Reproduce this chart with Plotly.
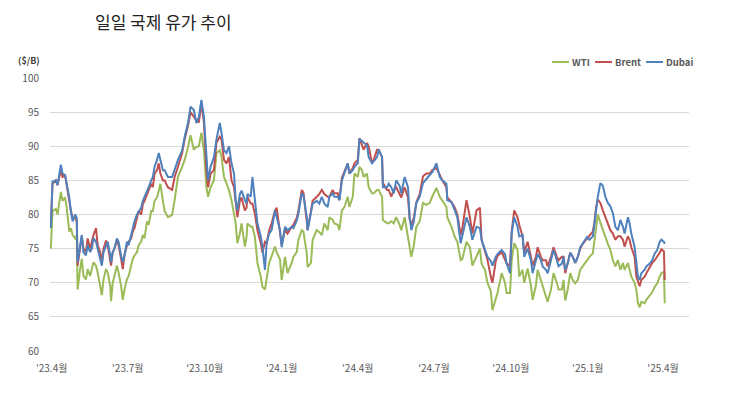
import pandas as pd
import plotly.graph_objects as go

start_date = "2023-03-31"
# days after start_date for each observation
day_index = [0, 2, 6, 8, 12, 14, 17, 19, 22, 24, 26, 29, 31, 32, 35, 37, 39, 42, 44, 47,
             49, 51, 54, 56, 59, 61, 63, 66, 68, 71, 72, 74, 76, 79, 81, 84, 86, 88, 91, 93,
             96, 98, 100, 103, 105, 108, 110, 112, 115, 117, 120, 122, 124, 127, 129, 131, 134, 136, 140, 145,
             148, 152, 157, 160, 164, 167, 171, 174, 177, 180, 183, 186, 188, 191, 195, 198, 202, 204, 207, 210,
             213, 216, 219, 221, 223, 226, 228, 232, 234, 235, 239, 241, 244, 247, 251, 253, 256, 258, 261, 264,
             268, 270, 274, 276, 280, 283, 288, 290, 294, 296, 300, 302, 306, 307, 311, 313, 318, 321, 324, 327,
             331, 333, 337, 339, 343, 345, 348, 351, 355, 357, 361, 363, 367, 369, 372, 374, 378, 380, 384, 386,
             390, 392, 396, 397, 402, 404, 407, 410, 413, 417, 419, 423, 427, 429, 431, 434, 437, 441, 445, 449,
             453, 456, 461, 465, 468, 473, 474, 479, 483, 486, 490, 492, 497, 501, 504, 509, 513, 515, 519, 522,
             526, 528, 532, 534, 539, 543, 545, 549, 551, 554, 558, 560, 564, 566, 570, 574, 576, 580, 582, 586,
             588, 592, 594, 598, 601, 605, 607, 611, 613, 615, 618, 621, 624, 627, 630, 633, 636, 641, 644, 648,
             650, 652, 654, 657, 660, 663, 666, 669, 672, 675, 678, 681, 684, 686, 690, 692, 694, 698, 700, 702,
             704, 706, 710, 712, 716, 719, 722, 725, 728, 730, 733, 734]

wti = [75.0, 80.5, 80.8, 80.0, 83.3, 82.0, 82.5, 81.0, 77.5, 78.0, 77.0, 76.5, 77.0, 69.0, 72.0, 73.5, 71.0, 70.5, 72.0, 71.0,
       72.0, 73.0, 72.5, 71.5, 69.5, 68.2, 70.5, 72.0, 71.5, 69.5, 67.3, 70.0, 71.0, 72.5, 71.5, 69.5, 67.5, 69.0, 70.5, 71.0,
       72.5, 73.5, 74.0, 74.5, 75.5, 76.0, 77.0, 76.5, 79.0, 78.5, 80.5, 80.5, 82.0, 82.5, 83.5, 84.5, 82.0, 80.5, 79.6, 79.9,
       82.1, 85.5, 87.0, 88.0, 89.9, 91.6, 89.5, 89.9, 90.0, 92.0, 89.4, 84.0, 82.6, 84.0, 85.0, 89.0, 89.4, 88.5, 85.5, 84.5,
       83.6, 82.1, 79.9, 78.7, 75.8, 77.2, 78.7, 75.3, 76.7, 78.7, 78.2, 78.2, 76.7, 72.9, 70.9, 69.4, 69.0, 70.9, 72.9, 73.9,
       75.3, 74.5, 73.4, 70.4, 73.8, 71.4, 72.9, 73.8, 74.5, 76.3, 77.7, 77.5, 74.3, 72.3, 72.9, 76.3, 77.7, 77.4, 77.0, 78.7,
       77.7, 79.6, 79.2, 78.7, 78.5, 77.7, 80.6, 81.1, 82.6, 81.1, 82.6, 86.0, 85.5, 87.0, 86.5, 85.5, 86.0, 84.0, 83.1, 83.1,
       83.6, 83.6, 82.6, 79.2, 78.7, 78.7, 79.0, 78.7, 79.6, 78.5, 77.7, 79.6, 77.0, 75.2, 73.8, 75.5, 78.2, 79.0, 81.7, 81.4,
       81.7, 82.6, 83.9, 82.6, 82.1, 81.1, 79.6, 78.2, 76.7, 76.0, 73.3, 73.5, 76.0, 75.2, 72.5, 74.0, 75.0, 72.8, 71.9, 70.0,
       68.8, 66.0, 67.9, 68.5, 71.4, 70.0, 68.5, 68.5, 73.3, 75.8, 74.8, 70.9, 71.9, 70.0, 72.1, 69.6, 67.5, 69.6, 71.9, 70.4,
       69.4, 67.9, 67.2, 69.0, 71.4, 70.0, 69.0, 69.0, 70.4, 67.4, 69.0, 71.4, 70.4, 69.9, 70.4, 71.9, 72.4, 73.4, 73.8, 74.3,
       76.3, 78.8, 80.0, 78.8, 77.7, 76.8, 75.7, 74.8, 73.3, 72.4, 73.3, 71.9, 72.9, 71.9, 72.9, 71.9, 70.9, 70.0, 69.0, 67.0,
       66.4, 67.2, 67.0, 67.5, 68.1, 68.6, 69.4, 69.9, 70.9, 71.4, 71.6, 67.0]

brent = [78.5, 84.5, 85.0, 84.3, 86.5, 85.5, 85.8, 84.5, 82.0, 80.5, 79.5, 79.5, 79.0, 72.5, 75.5, 76.8, 75.0, 74.5, 76.5, 75.0,
         76.0, 77.0, 78.0, 75.5, 74.5, 73.0, 75.0, 76.2, 75.5, 73.5, 72.5, 74.5, 75.0, 76.2, 75.5, 73.5, 72.0, 74.0, 75.5, 76.0,
         76.5, 77.5, 78.0, 79.5, 80.5, 80.0, 81.5, 82.0, 83.0, 83.5, 84.5, 84.0, 86.0, 86.5, 87.5, 86.0, 85.0, 85.0, 84.0, 83.6,
         85.5, 87.0, 89.0, 91.0, 93.0, 95.0, 94.3, 93.8, 93.5, 96.3, 93.5, 86.5, 84.0, 86.0, 86.5, 90.5, 91.4, 91.0, 88.0, 87.5,
         88.4, 85.0, 84.0, 81.6, 79.6, 82.0, 82.5, 80.6, 81.0, 82.6, 81.6, 81.6, 80.1, 77.7, 75.8, 74.4, 76.0, 75.8, 77.7, 78.7,
         80.6, 81.0, 77.7, 75.5, 77.8, 77.2, 78.2, 78.5, 79.5, 80.5, 83.6, 83.2, 79.0, 77.7, 80.5, 82.0, 82.6, 83.0, 83.6, 83.0,
         82.6, 82.6, 83.6, 83.1, 83.1, 82.1, 85.4, 86.4, 87.5, 86.0, 86.8, 87.5, 88.0, 91.2, 90.0, 89.5, 90.5, 90.0, 87.5, 88.0,
         89.5, 89.5, 88.4, 84.6, 83.6, 83.6, 82.6, 83.6, 84.0, 83.0, 82.5, 84.0, 82.5, 79.3, 78.5, 79.5, 81.8, 83.0, 85.6, 86.0,
         86.0, 86.5, 86.8, 85.8, 85.0, 84.0, 82.5, 81.8, 81.0, 80.0, 77.0, 78.0, 82.1, 79.6, 77.2, 80.6, 81.0, 76.3, 74.8, 73.4,
         70.9, 70.0, 73.2, 73.9, 74.5, 73.5, 72.8, 72.5, 77.5, 80.6, 79.6, 78.5, 76.8, 74.4, 76.0, 73.8, 72.5, 73.8, 75.2, 73.8,
         73.3, 73.3, 72.4, 73.8, 75.2, 73.8, 73.3, 73.8, 73.8, 71.4, 72.9, 74.4, 73.8, 72.9, 73.8, 75.0, 75.7, 76.5, 77.0, 77.5,
         78.9, 81.1, 82.2, 81.7, 80.6, 79.7, 78.7, 77.7, 77.2, 76.3, 76.8, 76.8, 76.3, 75.3, 76.8, 76.3, 75.2, 73.8, 70.9, 70.0,
         69.5, 70.4, 70.9, 71.4, 72.4, 72.9, 73.3, 73.8, 74.4, 74.9, 74.6, 70.4]

dubai = [78.0, 84.8, 85.0, 84.3, 87.3, 86.0, 85.8, 84.5, 82.5, 80.5, 79.0, 80.0, 79.5, 73.0, 75.5, 77.0, 74.5, 74.0, 75.5, 74.5,
         75.0, 76.5, 76.0, 75.0, 73.5, 72.5, 74.5, 75.5, 76.0, 74.0, 73.0, 74.5, 75.0, 76.5, 76.0, 74.0, 73.0, 74.0, 76.0, 75.5,
         77.0, 78.0, 79.0, 80.0, 80.5, 81.0, 82.0, 82.5, 83.5, 84.0, 85.0, 85.5, 87.0, 88.0, 89.0, 88.0, 86.5, 86.5, 85.5, 85.5,
         86.6, 88.0, 89.4, 91.4, 93.4, 95.8, 95.3, 93.4, 94.3, 96.8, 94.3, 88.4, 85.0, 87.0, 88.4, 91.0, 93.4, 92.0, 89.4, 89.0,
         90.0, 87.5, 86.0, 82.1, 80.6, 83.0, 83.5, 82.1, 81.6, 83.0, 82.6, 85.5, 81.6, 78.7, 76.8, 75.3, 71.9, 75.8, 77.2, 77.7,
         80.6, 79.5, 77.7, 75.2, 78.2, 77.7, 78.2, 78.0, 79.1, 80.1, 83.1, 82.8, 79.6, 77.7, 80.1, 81.6, 82.0, 81.6, 82.6, 81.6,
         81.1, 82.6, 83.1, 82.6, 82.6, 82.1, 85.0, 86.0, 87.5, 86.0, 86.5, 87.0, 87.5, 91.0, 90.8, 90.5, 90.2, 88.4, 87.5, 87.8,
         88.4, 89.5, 88.4, 84.0, 84.0, 84.5, 84.0, 83.1, 85.0, 84.2, 83.1, 85.5, 84.0, 79.6, 77.7, 79.0, 81.7, 82.6, 84.6, 85.2,
         85.8, 86.2, 87.5, 85.5, 85.0, 84.5, 82.1, 81.8, 80.6, 79.6, 75.8, 76.8, 79.6, 78.2, 76.3, 78.2, 78.0, 76.3, 74.8, 73.8,
         73.2, 72.5, 73.8, 74.2, 74.8, 74.2, 72.8, 71.4, 77.2, 79.6, 78.2, 76.8, 77.0, 73.8, 75.0, 73.3, 71.4, 73.3, 74.2, 73.3,
         72.4, 71.9, 71.4, 73.3, 74.8, 73.3, 72.4, 72.8, 73.8, 71.9, 72.8, 74.4, 73.8, 72.9, 73.8, 75.2, 75.7, 76.7, 76.3, 76.8,
         78.7, 81.1, 82.6, 84.6, 84.2, 82.6, 81.7, 81.2, 80.2, 78.2, 77.7, 79.2, 78.2, 77.2, 79.6, 78.7, 77.2, 75.2, 72.8, 70.9,
         70.4, 71.4, 71.9, 72.4, 72.8, 73.3, 74.3, 74.8, 76.0, 76.3, 76.0, 75.7]

series_names = ["WTI", "Brent", "Dubai"]
series_colors = ["#9BBB59", "#C0504D", "#4F81BD"]
tick_dates = ["2023-04-01", "2023-07-01", "2023-10-01", "2024-01-01", "2024-04-01",
              "2024-07-01", "2024-10-01", "2025-01-01", "2025-04-01"]
tick_labels = ["'23.4월", "'23.7월", "'23.10월", "'24.1월", "'24.4월",
               "'24.7월", "'24.10월", "'25.1월", "'25.4월"]
y_ticks = [60, 65, 70, 75, 80, 85, 90, 95, 100]

dates = pd.Timestamp(start_date) + pd.to_timedelta(day_index, unit="D")

fig = go.Figure()
for name, vals, col in zip(series_names, [wti, brent, dubai], series_colors):
    fig.add_trace(go.Scatter(x=dates, y=vals, name=name, mode="lines",
                             line=dict(color=col, width=2), showlegend=False))

font_kr = "Noto Sans CJK KR, Noto Sans, sans-serif"

# compact legend (Excel-style short line samples), positioned in paper coordinates
def px_x(x):
    return (x - 50) / 639

def px_y(y):
    return 1 + (78 - y) / 273

legend_line_px = [(552, 569), (595, 612), (646, 663)]
legend_y_px = 62
shapes = []
annotations = [
    dict(text="일일 국제 유가 추이", xref="paper", yref="paper", x=px_x(93), y=px_y(21),
         xanchor="left", yanchor="middle", showarrow=False,
         font=dict(family=font_kr, size=17, color="#222222")),
    dict(text="($/B)", xref="paper", yref="paper", x=px_x(42), y=px_y(60),
         xanchor="right", yanchor="middle", showarrow=False,
         font=dict(family=font_kr, size=9, color="#404040", weight=600)),
]
for name, col, (x0, x1) in zip(series_names, series_colors, legend_line_px):
    shapes.append(dict(type="line", xref="paper", yref="paper", x0=px_x(x0), x1=px_x(x1),
                       y0=px_y(legend_y_px), y1=px_y(legend_y_px), line=dict(color=col, width=2)))
    annotations.append(dict(text=name, xref="paper", yref="paper", x=px_x(x1 + 1), y=px_y(legend_y_px),
                            xanchor="left", yanchor="middle", showarrow=False,
                            font=dict(family=font_kr, size=9.5, color="#595959", weight=600)))

fig.update_layout(
    width=739, height=387,
    margin=dict(l=42, r=58, t=70, b=44, autoexpand=False),
    paper_bgcolor="white", plot_bgcolor="white",
    font=dict(family=font_kr, size=10, color="#595959"),
    showlegend=False,
    shapes=shapes,
    annotations=annotations,
)
fig.update_xaxes(range=["2023-03-30", "2025-05-02"], tickvals=tick_dates, ticktext=tick_labels,
                 showgrid=False, zeroline=False, showline=False, ticks="", ticklabelstandoff=10,
                 tickfont=dict(size=10, color="#595959"))
fig.update_yaxes(range=[60, 100], tickvals=y_ticks, showgrid=True, gridcolor="#D9D9D9", gridwidth=1,
                 zeroline=False, showline=False, ticks="", ticklabelstandoff=10,
                 tickfont=dict(size=10, color="#595959"))

fig.write_html("out.html")
